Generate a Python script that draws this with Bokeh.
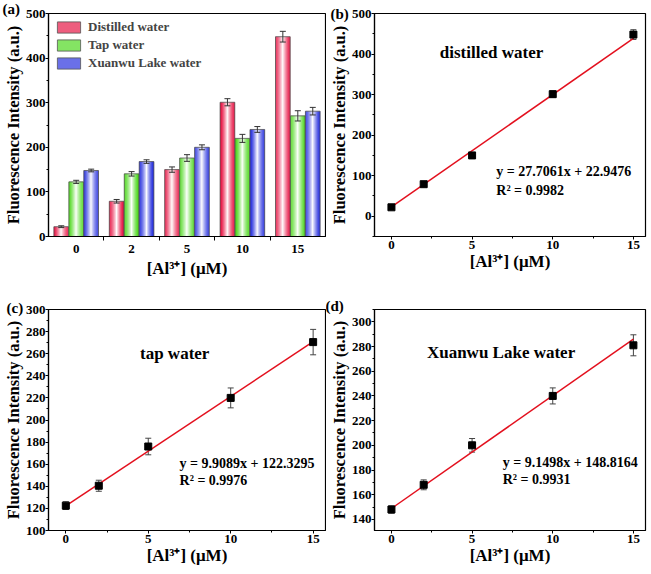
import numpy as np
from bokeh.plotting import figure
from bokeh.layouts import row, column
from bokeh.models import (ColumnDataSource, Whisker, TeeHead, Label, Legend, LegendItem,
                          SingleIntervalTicker, FixedTicker, Range1d)
from bokeh.embed import file_html
from bokeh.resources import INLINE

FONT = "Liberation Serif"

# ---------------- data ----------------
conc_labels = ["0", "2", "5", "10", "15"]
conc = [0, 2, 5, 10, 15]
distilled = [22, 79, 150, 301, 448]
distilled_err = [2, 4, 6, 8, 12]
tap = [122.5, 140.5, 176, 220, 270.5]
tap_err = [3.5, 5, 7.5, 9, 11.5]
xuanwu = [148, 168, 200, 240, 281]
xuanwu_err = [3, 4, 5.5, 6.5, 8.5]
series_names = ["Distilled water", "Tap water", "Xuanwu Lake water"]
fit_titles = ["distilled water", "tap water", "Xuanwu Lake water"]
panel_letters = ["(a)", "(b)", "(c)", "(d)"]
slopes = [27.7061, 9.9089, 9.1498]
intercepts = [22.9476, 122.3295, 148.8164]
r_squared = [0.9982, 0.9976, 0.9931]

edge_colors = [(230, 10, 60), (70, 214, 20), (30, 40, 220)]
XLABEL = "[Al³⁺] (μM)"
YLABEL = "Fluorescence Intensity (a.u.)"


def style(p, xlabel, ylabel):
    p.xgrid.visible = False
    p.ygrid.visible = False
    p.outline_line_color = "black"
    p.outline_line_width = 1.2
    p.background_fill_color = "white"
    p.border_fill_color = "white"
    for ax in (p.xaxis[0], p.yaxis[0]):
        ax.axis_line_width = 1.2
        ax.axis_line_color = "black"
        ax.major_tick_in = 0
        ax.major_tick_out = 3
        ax.minor_tick_in = 0
        ax.minor_tick_out = 2
        ax.major_tick_line_color = "black"
        ax.minor_tick_line_color = "black"
        ax.major_label_text_font = FONT
        ax.major_label_text_font_style = "bold"
        ax.major_label_text_font_size = "13px"
        ax.major_label_text_color = "black"
        ax.axis_label_text_font = FONT
        ax.axis_label_text_font_style = "bold"
        ax.axis_label_text_font_size = "17px"
        ax.axis_label_text_color = "black"
        ax.major_label_standoff = 0
        ax.axis_label_standoff = 0
    p.yaxis[0].axis_label_text_font_size = "16.5px"
    p.xaxis[0].axis_label = xlabel
    p.yaxis[0].axis_label = ylabel
    p.xaxis[0].major_label_standoff = 1


def panel_title(p, text, dx, standoff):
    p.title.text = text
    p.title.align = "left"
    p.title.offset = dx
    p.title.standoff = standoff
    p.title.text_font = FONT
    p.title.text_font_style = "bold"
    p.title.text_font_size = "15px"
    p.title.text_color = "black"


def blend(rgb, w):
    r, g, b = [int(round(c + (255 - c) * w)) for c in rgb]
    return "#%02x%02x%02x" % (r, g, b)


# ---------------- panel (a) ----------------
idx = np.arange(len(conc_labels))
pa = figure(width=326, height=290, x_range=Range1d(-0.5, len(conc_labels) - 0.5),
            y_range=Range1d(0, 500), output_backend="svg", toolbar_location=None,
            min_border_left=47, min_border_right=1, min_border_top=13, min_border_bottom=54)
style(pa, XLABEL, YLABEL)
pa.xaxis[0].ticker = FixedTicker(ticks=list(idx), minor_ticks=list(idx[:-1] + 0.5))
pa.xaxis[0].major_label_overrides = {int(i): lab for i, lab in zip(idx, conc_labels)}
pa.xaxis[0].major_tick_out = 0
pa.xaxis[0].minor_tick_out = 4
pa.xaxis[0].major_label_standoff = 4
pa.xaxis[0].axis_label_standoff = 3
pa.yaxis[0].ticker = SingleIntervalTicker(interval=100, num_minor_ticks=2)

bar_w = 0.265
offsets = [-0.27, 0.0, 0.27]
N = 15
legend_items = []
for vals, errs, col, off, name in zip([distilled, tap, xuanwu],
                                      [distilled_err, tap_err, xuanwu_err],
                                      edge_colors, offsets, series_names):
    vals = np.array(vals, dtype=float)
    errs = np.array(errs, dtype=float)
    xc = idx + off
    legend_r = None
    for k in range(N):
        t = (k + 0.5) / N
        d = abs(2 * t - 1)
        w = (1 - d) ** 1.4
        color = blend(col, w * 0.98)
        xs = xc - bar_w / 2 + (k + 0.5) * bar_w / N
        r = pa.vbar(x=xs, top=vals, bottom=0, width=bar_w / N * 1.15,
                    fill_color=color, line_color=None)
        if k == 3:
            legend_r = r
    outline = pa.vbar(x=xc, top=vals, bottom=0, width=bar_w, fill_color=None,
                      line_color="#555555", line_width=0.8)
    src = ColumnDataSource(dict(x=xc, upper=vals + errs, lower=vals - errs))
    pa.add_layout(Whisker(base="x", upper="upper", lower="lower", source=src,
                          line_color="#333333", line_width=1, level="overlay",
                          upper_head=TeeHead(size=6, line_color="#333333", line_width=1),
                          lower_head=TeeHead(size=6, line_color="#333333", line_width=1)))
    legend_items.append(LegendItem(label=name, renderers=[legend_r, outline]))

leg = Legend(items=legend_items, location="top_left", margin=6, padding=0, spacing=2,
             glyph_width=29, glyph_height=14, label_height=14, label_standoff=5,
             label_text_font=FONT, label_text_font_style="bold", label_text_font_size="13px",
             border_line_color=None, background_fill_alpha=0)
pa.add_layout(leg)
panel_title(pa, panel_letters[0], -46, -7)


# ---------------- panels (b)-(d) ----------------
def fit_panel(vals, errs, k, yr, yint, width, height, borders,
              title_pos, eq_pos, lab, lab_dx, lab_standoff):
    p = figure(width=width, height=height, x_range=Range1d(-1.05, 15.75), y_range=Range1d(*yr),
               output_backend="svg", toolbar_location=None,
               min_border_left=borders[0], min_border_right=borders[1],
               min_border_top=borders[2], min_border_bottom=borders[3])
    style(p, XLABEL, YLABEL)
    p.xaxis[0].ticker = SingleIntervalTicker(interval=5, num_minor_ticks=2)
    p.yaxis[0].ticker = SingleIntervalTicker(interval=yint, num_minor_ticks=2)
    vals = np.array(vals, dtype=float)
    errs = np.array(errs, dtype=float)
    x = np.array(conc, dtype=float)
    src = ColumnDataSource(dict(x=x, y=vals, upper=vals + errs, lower=vals - errs))
    p.add_layout(Whisker(base="x", upper="upper", lower="lower", source=src,
                         line_color="#444444", line_width=1,
                         upper_head=TeeHead(size=6, line_color="#444444", line_width=1),
                         lower_head=TeeHead(size=6, line_color="#444444", line_width=1)))
    xf = np.array([x[0], x[-1]])
    p.line(xf, slopes[k] * xf + intercepts[k], line_color="#e3101e", line_width=1.5)
    p.scatter("x", "y", source=src, marker="square", size=7, fill_color="black",
              line_color="black")
    p.add_layout(Label(x=title_pos[0], y=title_pos[1], text=fit_titles[k],
                       text_baseline="middle", text_align="left", text_font=FONT,
                       text_font_style="bold", text_font_size="17px", text_color="black"))
    eq = "y = %.4fx + %.4f" % (slopes[k], intercepts[k])
    p.add_layout(Label(x=eq_pos[0], y=eq_pos[1], text=eq, text_baseline="middle",
                       text_align="left", text_font=FONT, text_font_style="bold",
                       text_font_size="14px", text_color="black"))
    p.add_layout(Label(x=eq_pos[0], y=eq_pos[2], text="R² = %.4f" % r_squared[k],
                       text_baseline="middle", text_align="left", text_font=FONT,
                       text_font_style="bold", text_font_size="14px", text_color="black"))
    panel_title(p, lab, lab_dx, lab_standoff)
    return p


pb = fit_panel(distilled, distilled_err, 0, (-50, 500), 100, 325, 290, (45, 6, 13, 54),
               (3.0, 405), (6.5, 110, 63), panel_letters[1], -44, -17)
pc = fit_panel(tap, tap_err, 1, (100, 300), 20, 326, 282, (47, 1, 19, 42),
               (4.5, 260), (6.9, 161, 145), panel_letters[2], -42, -13)
pd = fit_panel(xuanwu, xuanwu_err, 2, (131, 310), 20, 325, 282, (45, 6, 19, 42),
               (2.2, 275), (6.9, 186, 172), panel_letters[3], -49, -8)

layout = column(row(pa, pb, spacing=0), row(pc, pd, spacing=0), spacing=0)
open("out.html", "w").write(file_html(layout, INLINE))
